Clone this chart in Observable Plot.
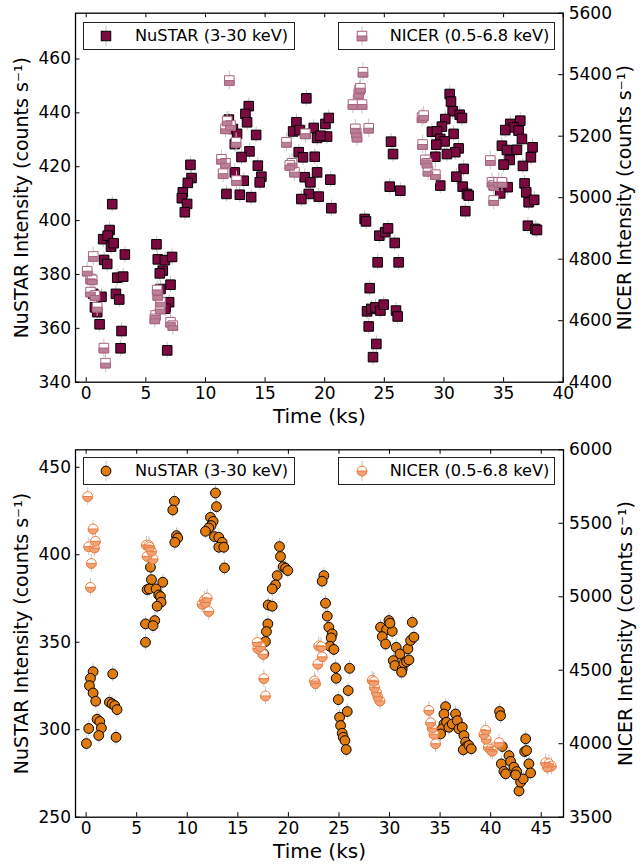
<!DOCTYPE html>
<html><head><meta charset="utf-8">
<script src="https://cdn.jsdelivr.net/npm/d3@7"></script>
<script src="https://cdn.jsdelivr.net/npm/@observablehq/plot@0.6"></script>
<style>
body{margin:0;background:#fff;font-family:"DejaVu Sans",sans-serif;}
#page{position:relative;width:640px;height:864px;overflow:hidden;}
.panel{position:absolute;left:0;width:640px;height:432px;}
.panel svg{position:absolute;left:0;top:0;}
.legend{position:absolute;height:28px;border:1px solid #222;background:#fff;font-size:16.2px;box-sizing:border-box;color:#000;}
.legend svg{position:absolute;top:2px;}
.legend span{position:absolute;top:3px;white-space:nowrap;}
</style></head><body><div id="page"></div>
<script>
// ---------------- data ----------------
// Top panel: NuSTAR (3-30 keV), time (ks) and intensity (counts/s, left axis)
const topNuT = [2.18,1.96,1.42,1.8,2.08,2.3,3.24,1.5,1.76,2.6,3.1,2.49,2.77,0.59,1.28,0.73,0.92,1.12,2.96,2.88,
5.89,6.0,6.6,7.2,6.42,6.17,7.07,6.23,6.95,6.65,6.79,
8.74,8.83,8.52,8.1,8.02,8.46,8.27,
11.76,11.96,12.3,13.63,13.35,13.49,12.65,12.46,14.25,13.69,13.02,14.39,12.46,13.21,14.69,14.55,12.88,13.83,
18.46,17.63,17.35,17.9,18.38,19.08,19.36,17.82,18.18,19.16,19.36,18.32,18.8,18.66,18.04,19.5,20.06,20.34,20.2,20.47,20.56,19.64,
25.56,25.73,25.45,26.34,23.35,23.46,24.58,25.08,25.31,25.87,24.44,26.2,23.77,23.55,23.91,24.25,24.67,24.95,25.98,26.12,23.69,24.33,24.05,
30.48,30.59,30.73,31.32,31.51,30.11,29.83,28.99,29.42,30.81,29.69,30.06,29.36,31.23,30.95,30.25,29.28,31.65,31.04,29.69,31.57,31.93,32.07,31.79,
36.4,35.56,35.84,35.14,36.26,36.54,34.86,35.28,36.12,37.43,35.51,37.29,35.0,36.62,36.76,35.34,36.9,34.72,37.1,37.57,37.04,37.66,37.8];
const topNuV = [406.1,396.5,393.1,394.4,390.3,391.6,387.4,385.4,383.9,378.8,379.2,372.8,370.7,372.8,371.7,367.8,366,361.5,359,352.6,
391.2,385.6,385.3,386.5,381.4,380.4,376.2,374.6,369.7,367.3,351.8,
420.7,415.8,414,410.5,408.3,406.2,403.1,
409.9,437.5,434,442.5,439.6,436.5,432.2,428.4,431.8,425.7,423.6,420.4,417.9,414.8,416.3,414.2,409.6,408.7,
445.4,436.5,433.1,433.6,432.2,434.4,430.7,425.4,423.5,423.7,417.9,416.1,414.2,409.9,408,408.9,435.9,438.1,431.2,415.2,404.6,431.5,
429.3,424.7,412.6,411.1,400.6,399.7,394.4,395.7,397.1,391.7,384.5,384.5,374.9,366.3,367.2,367.8,366.6,368.8,366.6,364.4,360.7,354.2,349.3,
447,444.2,440.6,439.3,438.1,437.7,434.9,433,433.1,432.2,430.3,429.4,428.2,426.8,425.4,424.7,423.7,419.2,416.3,413,412.6,409.9,409.3,403.5,
437.1,435.9,434.6,433.6,433.4,430.3,427.8,426.2,426.3,427.2,422.5,423.5,420.8,420.3,413.8,412.4,410.5,410.1,406.8,407.7,398.1,396.9,396.5];
// Top panel: NICER (0.5-6.8 keV), right axis
const topNiT = [0.59,0.08,0.36,0.5,0.36,0.73,0.92,1.48,1.62,
5.95,6.0,6.23,6.2,5.81,5.75,7.07,7.26,
12.0,11.82,11.68,12.1,12.57,11.34,11.48,11.68,12.6,
16.79,17.26,17.07,17.46,18.38,
23.21,22.93,22.85,22.99,22.37,23.13,22.57,22.65,22.71,23.69,
28.16,28.3,28.21,28.44,28.58,28.66,29.28,
33.89,34.03,34.17,34.58,34.86,34.17];
const topNiV = [4809,4761,4736,4733,4693,4682,4644,4511,4462,
4700,4682,4660,4638,4617,4606,4595,4584,
5381,5249,5224,5235,5180,5125,5078,5112,5056,
5180,5112,5105,5083,5208,
5408,5351,5338,5356,5303,5303,5224,5210,5197,5226,
5260,5267,5173,5123,5112,5086,5075,
5121,5050,5040,5050,5050,4991];
// Bottom panel: NuSTAR
const botNuT = [0.69,0.43,0.33,0.69,0.95,2.63,2.3,2.57,2.83,3.06,1.08,1.35,1.51,0.26,1.25,2.96,0.03,
6.36,6.46,7.58,6.03,6.26,6.92,7.18,7.35,7.41,7.02,5.87,6.79,6.62,5.87,
8.73,8.57,8.93,9.06,8.77,
12.79,12.89,12.29,12.56,12.36,12.13,11.8,12.69,13.12,13.45,13.12,13.61,13.68,
19.12,19.22,19.48,19.72,19.94,18.89,18.72,18.4,18.0,18.4,17.97,17.83,17.73,17.57,
23.51,23.34,23.67,23.84,24.0,24.33,24.23,24.1,24.5,24.66,24.73,24.93,25.06,25.16,25.32,25.42,25.59,25.72,26.05,25.91,25.82,
29.94,29.11,29.71,29.28,29.61,30.27,30.66,31.03,30.37,30.53,31.26,31.42,31.68,31.92,31.82,32.08,32.41,32.25,31.19,30.04,
35.54,35.38,35.38,35.21,35.05,35.64,35.87,36.2,36.53,36.7,36.86,37.19,37.36,37.52,37.62,37.29,37.85,38.08,
40.88,40.98,41.15,41.05,41.31,41.48,41.81,41.97,42.3,42.57,42.8,42.96,43.22,43.36,43.55,43.46,43.78,43.95,42.47];
const botNuV = [333.2,329.4,325.2,321,316.3,331.9,315.7,314.8,313.8,311.5,306,304.7,301,300.7,296.7,295.7,292.1,
392.9,385.8,384.3,380.1,380.5,380.5,377,376.1,372.9,370.6,360.5,362.4,359.5,350,
430.6,425.6,410.9,409.6,407.1,
435.3,427.5,421.4,419.1,416.7,415.3,413.4,410.4,410,407.1,404.3,404.3,392.5,
404.7,399,393.2,392.3,391,388.1,382.8,380.5,371.3,370.6,360.5,356.1,350.4,343.3,
388.1,384.9,372.3,364.9,358.6,354.8,352.5,347.7,345.9,335.4,329.4,317.2,307.1,302.4,298,295.7,293.8,288.7,335.1,322.4,310.4,
362.4,358.6,357.2,353.2,349,356.3,347.1,343.3,339.5,336.7,334.8,338,338.9,339.9,346.2,351,352.9,361.4,332.9,360.9,
313.2,309,303.3,300.5,297.6,304.3,301.4,303.3,309,305.2,300.5,301.4,296.7,292.9,290.4,288.5,291,289.1,
310.4,308,290.4,280.5,276.2,274.8,285.2,281.9,278.6,276.1,265,270,271.9,287.5,288.1,294.8,280.5,275.3,274.2];
// Bottom panel: NICER
const botNiT = [0.16,0.69,0.92,0.26,0.82,0.52,0.43,
5.96,6.2,6.29,6.46,6.03,6.62,
11.47,11.7,11.96,11.8,12.13,
16.91,16.98,17.24,17.5,17.57,17.73,
23.01,23.24,23.34,22.91,22.58,22.68,
28.29,28.45,28.52,28.72,28.85,29.05,
33.89,34.06,34.22,34.39,34.55,
39.5,39.33,39.56,39.76,39.99,40.16,40.82,
45.43,45.76,45.99,45.6];
const botNiV = [5682,5461,5377,5341,5332,5227,5064,
5352,5348,5336,5309,5275,5257,
4950,4977,4991,4961,4900,
4689,4648,4661,4609,4443,4325,
4666,4661,4591,4541,4427,4409,
4432,4423,4382,4348,4318,4291,
4227,4143,4105,4064,4000,
4091,4064,4030,3977,3961,3950,4007,
3870,3864,3848,3841];
// typical 1-sigma uncertainties (counts/s)
const topNuErr = 3, topNiErr = 30, botNuErr = 4.5, botNiErr = 60;
// tick values
const topXTicks = [0,5,10,15,20,25,30,35,40];
const topYLTicks = [340,360,380,400,420,440,460];
const topYRTicks = [4400,4600,4800,5000,5200,5400,5600];
const botXTicks = [0,5,10,15,20,25,30,35,40,45];
const botYLTicks = [250,300,350,400,450];
const botYRTicks = [3500,4000,4500,5000,5500,6000];
// labels
const nuLegend = "NuSTAR (3-30 keV)";
const niLegend = "NICER (0.5-6.8 keV)";
const yLabelL = "NuSTAR Intensity (counts s\u207B\u00B9)";
const yLabelR = "NICER Intensity (counts s\u207B\u00B9)";
const xLabel = "Time (ks)";

// ---------------- drawing ----------------
const W = 640, H = 432, FONT = "DejaVu Sans";
const ERR = "#c4c4c4";
const zip = (T, V) => T.slice(0, Math.min(T.length, V.length)).map((t, i) => ({t, v: V[i]}));

const halfSquare = {draw(c, size) { const w = Math.sqrt(size); c.rect(-w/2, 0, w, w/2); }};
const halfCircle = {draw(c, size) { const r = Math.sqrt(size/Math.PI); c.moveTo(r, 0); c.arc(0, 0, r, 0, Math.PI); c.closePath(); }};
const fmt = d => `${d}`;

function makePanel(top, cfg) {
  const {mt, mb, ml, mr, xDomain, xTicks, yL, yLTicks, yR, yRTicks, nu, ni, nuErr, niErr,
         sym, half, r, nuFill, niEdge, niFill, xLabelDy} = cfg;
  const ph = H - mt - mb, pw = W - ml - mr;
  const div = document.createElement("div");
  div.className = "panel"; div.style.top = top + "px";
  const common = {width: W, height: H, marginTop: mt, marginBottom: mb, marginLeft: ml, marginRight: mr,
    style: {fontFamily: FONT, fontSize: "17px", color: "#000", background: "transparent", overflow: "visible"}};
  const left = Plot.plot({...common, x: {domain: xDomain}, y: {domain: yL},
    marks: [
      Plot.ruleX(nu, {x: "t", y1: d => d.v - nuErr, y2: d => d.v + nuErr, stroke: ERR, strokeWidth: 1}),
      Plot.dot(nu, {x: "t", y: "v", symbol: sym, r, fill: nuFill, stroke: "#000", strokeWidth: 1}),
      Plot.frame({stroke: "#000", strokeWidth: 1.3}),
      Plot.tickX(xTicks, {x: d => d, insetTop: ph - 4.5, stroke: "#000"}),
      Plot.tickX(xTicks, {x: d => d, insetBottom: ph - 4.5, stroke: "#000"}),
      Plot.tickY(yLTicks, {y: d => d, insetRight: pw - 4.5, stroke: "#000"}),
      Plot.axisX(xTicks, {anchor: "bottom", tickSize: 0, tickPadding: 5, label: null, fontSize: 17, tickFormat: fmt}),
      Plot.axisY(yLTicks, {anchor: "left", tickSize: 0, tickPadding: 4.5, label: null, fontSize: 17, tickFormat: fmt}),
      Plot.text([yLabelL], {text: d => d, frameAnchor: "left", textAnchor: "middle", lineAnchor: "middle", dx: -54, rotate: -90, fontSize: 19}),
      Plot.text([xLabel], {text: d => d, frameAnchor: "bottom", textAnchor: "middle", lineAnchor: "middle", dy: xLabelDy, fontSize: 20})
    ]});
  const right = Plot.plot({...common, x: {domain: xDomain, axis: null}, y: {domain: yR, axis: null},
    marks: [
      Plot.ruleX(ni, {x: "t", y1: d => d.v - niErr, y2: d => d.v + niErr, stroke: ERR, strokeWidth: 1}),
      Plot.dot(ni, {x: "t", y: "v", symbol: sym, r, fill: "#fff", stroke: niEdge, strokeWidth: 1}),
      Plot.dot(ni, {x: "t", y: "v", symbol: half, r, fill: niFill, stroke: niEdge, strokeWidth: 1}),
      Plot.tickY(yRTicks, {y: d => d, insetLeft: pw - 4.5, stroke: "#000"}),
      Plot.axisY(yRTicks, {anchor: "right", tickSize: 0, tickPadding: 5.5, label: null, fontSize: 17, tickFormat: fmt}),
      Plot.text([yLabelR], {text: d => d, frameAnchor: "right", textAnchor: "middle", lineAnchor: "middle", dx: 62, rotate: -90, fontSize: 19})
    ]});
  div.appendChild(left); div.appendChild(right);
  return div;
}

function legendBox(x, y, w, label, markerSvg, textX) {
  const d = document.createElement("div");
  d.className = "legend";
  d.style.left = x + "px"; d.style.top = y + "px"; d.style.width = w + "px";
  d.innerHTML = markerSvg + `<span style="left:${textX}px">${label}</span>`;
  return d;
}

const page = document.getElementById("page");
const MAROON = "#7a0a40", ORANGE = "#e07b10";
const MAUVE_EDGE = "#a9637f", MAUVE_FILL = "#ba8098";
const ORNG_EDGE = "#ea7d42", ORNG_FILL = "#f2a275";

page.appendChild(makePanel(0, {
  mt: 12.7, mb: 50.3, ml: 75, mr: 77.3, xDomain: [-0.9, 40], xTicks: topXTicks,
  yL: [340, 477], yLTicks: topYLTicks, yR: [4400, 5600], yRTicks: topYRTicks,
  nu: zip(topNuT, topNuV), ni: zip(topNiT, topNiV), nuErr: topNuErr, niErr: topNiErr,
  sym: "square", half: halfSquare, r: 5.4, nuFill: MAROON, niEdge: MAUVE_EDGE, niFill: MAUVE_FILL, xLabelDy: 34
}));
page.appendChild(makePanel(432, {
  mt: 17.3, mb: 47.3, ml: 75, mr: 77, xDomain: [-1.05, 47.2], xTicks: botXTicks,
  yL: [250, 460], yLTicks: botYLTicks, yR: [3500, 6000], yRTicks: botYRTicks,
  nu: zip(botNuT, botNuV), ni: zip(botNiT, botNiV), nuErr: botNuErr, niErr: botNiErr,
  sym: "circle", half: halfCircle, r: 4.9, nuFill: ORANGE, niEdge: ORNG_EDGE, niFill: ORNG_FILL, xLabelDy: 34
}));

const sqNu = `<svg width="20" height="22" style="left:12px"><line x1="10" y1="1" x2="10" y2="21" stroke="${ERR}"/><rect x="5.25" y="6.25" width="9.5" height="9.5" fill="${MAROON}" stroke="#000"/></svg>`;
const sqNi = `<svg width="20" height="22" style="left:13px"><line x1="10" y1="1" x2="10" y2="21" stroke="${ERR}"/><rect x="5.25" y="6.25" width="9.5" height="9.5" fill="#fff" stroke="${MAUVE_EDGE}"/><rect x="5.25" y="11" width="9.5" height="4.75" fill="${MAUVE_FILL}" stroke="${MAUVE_EDGE}"/></svg>`;
const ciNu = `<svg width="20" height="22" style="left:12px"><line x1="10" y1="1" x2="10" y2="21" stroke="${ERR}"/><circle cx="10" cy="11" r="4.9" fill="${ORANGE}" stroke="#000"/></svg>`;
const ciNi = `<svg width="20" height="22" style="left:13px"><line x1="10" y1="1" x2="10" y2="21" stroke="${ERR}"/><circle cx="10" cy="11" r="4.9" fill="#fff" stroke="${ORNG_EDGE}"/><path d="M14.9,11A4.9,4.9 0 0 1 5.1,11Z" fill="${ORNG_FILL}" stroke="${ORNG_EDGE}"/></svg>`;

page.appendChild(legendBox(83, 21.7, 212, nuLegend, sqNu, 51));
page.appendChild(legendBox(337.7, 21.7, 217.3, niLegend, sqNi, 51));
page.appendChild(legendBox(83, 456.7, 212, nuLegend, ciNu, 51));
page.appendChild(legendBox(337.7, 456.7, 217.3, niLegend, ciNi, 51));
</script></body></html>
